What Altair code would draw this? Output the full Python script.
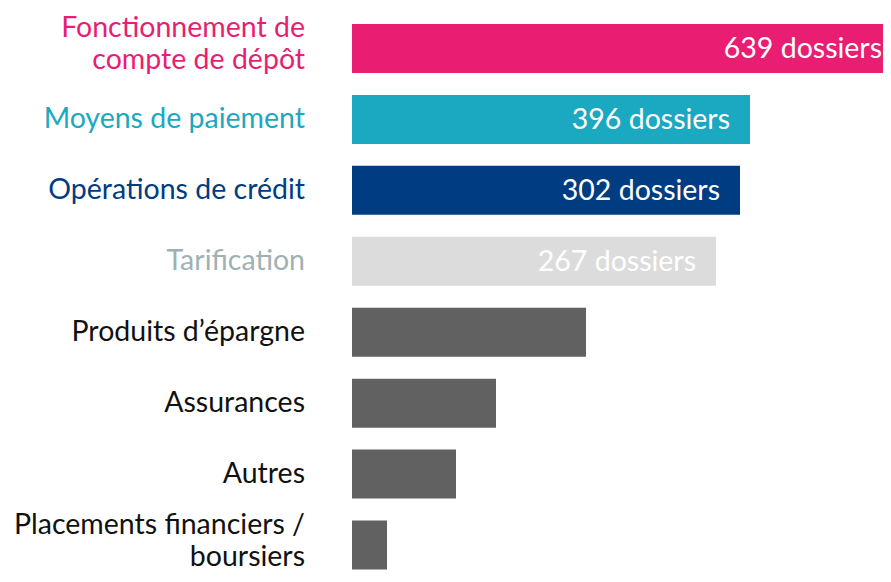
import altair as alt
import pandas as pd

categories = [
    "Fonctionnement de\ncompte de dépôt",
    "Moyens de paiement",
    "Opérations de crédit",
    "Tarification",
    "Produits d’épargne",
    "Assurances",
    "Autres",
    "Placements financiers /\nboursiers",
]
# bar lengths as drawn (display units)
longueurs = [550, 398, 388, 364, 234, 144, 104, 35]
etiquettes = ["639 dossiers", "396 dossiers", "302 dossiers", "267 dossiers", "", "", "", ""]
couleurs_barre = ["#E91E72", "#1BA8C1", "#003C82", "#DCDCDC", "#616161", "#616161", "#616161", "#616161"]
couleurs_libelle = ["#E91E72", "#1BA8C1", "#003C82", "#9FB1B3", "#111111", "#111111", "#111111", "#111111"]

df = pd.DataFrame({
    "categorie": categories,
    "longueur": longueurs,
    "etiquette": etiquettes,
    "couleur_barre": couleurs_barre,
    "couleur_libelle": couleurs_libelle,
})
df["lignes"] = df["categorie"].str.count("\n") + 1

FONT = "Lato"
FS = 28.5

y_enc = alt.Y("categorie:N", sort=None, axis=None,
              scale=alt.Scale(range=[5, 572.5], paddingInner=0.31, paddingOuter=0.155))
x_scale = alt.Scale(domain=[0, 531], nice=False)

base = alt.Chart(df)

bars = base.mark_bar().encode(
    y=y_enc,
    x=alt.X("longueur:Q", scale=x_scale, axis=None),
    color=alt.Color("couleur_barre:N", scale=None),
)

valeurs = base.mark_text(align="right", baseline="middle", dx=-20, dy=1,
                         font=FONT, fontSize=FS, color="white").encode(
    y=y_enc,
    x=alt.X("longueur:Q", scale=x_scale),
    text="etiquette:N",
)

libelles1 = base.transform_filter("datum.lignes == 1").mark_text(
    align="right", baseline="middle", font=FONT, fontSize=FS).encode(
    y=y_enc,
    x=alt.value(-47),
    text="categorie:N",
    color=alt.Color("couleur_libelle:N", scale=None),
)

libelles2 = base.transform_filter("datum.lignes == 2").mark_text(
    align="right", baseline="middle", lineBreak="\n", lineHeight=32, dy=-20,
    font=FONT, fontSize=FS).encode(
    y=y_enc,
    x=alt.value(-47),
    text="categorie:N",
    color=alt.Color("couleur_libelle:N", scale=None),
)

chart = alt.layer(bars, valeurs, libelles1, libelles2).properties(
    width=531, height=566,
    autosize=alt.AutoSizeParams(type="none"),
    padding={"left": 344, "top": 0, "right": 0, "bottom": 0},
).configure_view(stroke=None)

chart.save("out.html", embed_options={"renderer": "svg", "actions": False})
